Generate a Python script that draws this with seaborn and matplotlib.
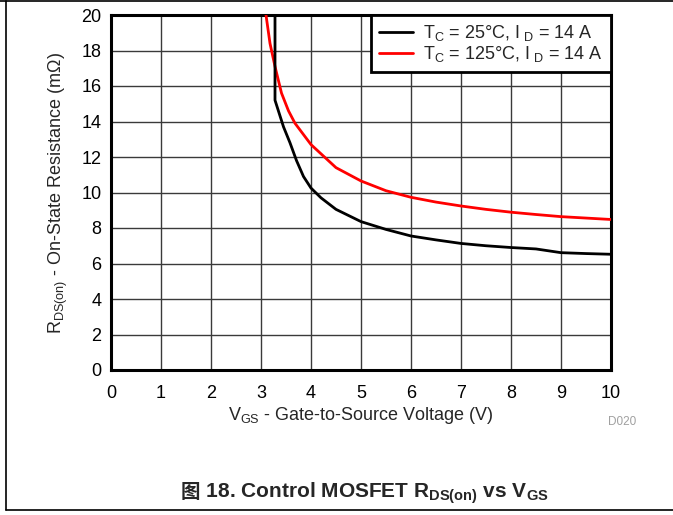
import matplotlib
matplotlib.use("Agg")
import matplotlib.pyplot as plt
import seaborn as sns
import pandas as pd
from matplotlib.lines import Line2D

# R_DS(on) versus V_GS at two case temperatures, I_D = 14 A
vgs_25c = [3.28, 3.28, 3.45, 3.58, 3.71, 3.85, 4.0, 4.2, 4.5, 5.0, 5.5,
           6.0, 6.5, 7.0, 7.5, 8.0, 8.5, 9.0, 9.5, 10.0]
rds_25c = [20.0, 15.2, 13.7, 12.8, 11.8, 10.9, 10.25, 9.7, 9.05, 8.36, 7.92,
           7.55, 7.33, 7.13, 7.0, 6.9, 6.82, 6.61, 6.56, 6.52]

vgs_125c = [3.1, 3.18, 3.28, 3.41, 3.55, 3.68, 4.0, 4.5, 5.0, 5.5, 6.0,
            6.5, 7.0, 7.5, 8.0, 8.5, 9.0, 9.5, 10.0]
rds_125c = [20.0, 18.4, 17.1, 15.6, 14.6, 13.9, 12.7, 11.4, 10.65, 10.1, 9.73,
            9.46, 9.24, 9.05, 8.89, 8.76, 8.64, 8.56, 8.48]

x_ticks = list(range(0, 11))
y_ticks = list(range(0, 21, 2))

label_25c = r"T$_\mathregular{C}$ = 25°C, I$_\mathregular{\ D}$ = 14 A"
label_125c = r"T$_\mathregular{C}$ = 125°C, I$_\mathregular{\ D}$ = 14 A"

sns.set_style("white")
plt.rcParams["font.family"] = ["Liberation Sans", "Noto Sans CJK SC", "DejaVu Sans"]
plt.rcParams["mathtext.fontset"] = "custom"
plt.rcParams["mathtext.rm"] = "Liberation Sans"
plt.rcParams["mathtext.bf"] = "Liberation Sans:bold"

W, H = 673, 515
fig = plt.figure(figsize=(W / 100, H / 100), dpi=100)
ax = fig.add_axes([111 / W, 1 - 370 / H, 500 / W, 355 / H])

df25 = pd.DataFrame({"vgs": vgs_25c, "rds": rds_25c})
df125 = pd.DataFrame({"vgs": vgs_125c, "rds": rds_125c})

sns.lineplot(data=df25, x="vgs", y="rds", ax=ax, color="black", lw=2.0,
             sort=False, estimator=None, label=label_25c, zorder=4)
sns.lineplot(data=df125, x="vgs", y="rds", ax=ax, color="#ff0000", lw=2.0,
             sort=False, estimator=None, label=label_125c, zorder=3)

ax.set_xlim(0, 10)
ax.set_ylim(0, 20)
ax.set_xticks(x_ticks)
ax.set_yticks(y_ticks)
ax.grid(True, color="#3a3a3a", lw=1.0)
ax.set_axisbelow(True)
ax.tick_params(length=0, labelsize=13, colors="black")
ax.tick_params(axis="x", pad=11)
ax.tick_params(axis="y", pad=7)
for s in ax.spines.values():
    s.set_visible(True)
    s.set_color("black")
    s.set_linewidth(2.2)

ax.set_xlabel(r"V$_\mathregular{GS}$ - Gate-to-Source Voltage (V)", fontsize=13, labelpad=2)
ax.set_ylabel(r"R$_\mathregular{DS(on)}$ - On-State Resistance (mΩ)", fontsize=13, labelpad=8)

handles = [Line2D([], [], color="black", lw=2.0), Line2D([], [], color="#ff0000", lw=2.0)]
leg = ax.legend(handles, [label_25c, label_125c], loc="upper right", borderaxespad=0,
                fancybox=False, framealpha=1, edgecolor="black", fontsize=13,
                handlelength=1.9, handletextpad=0.55, labelspacing=0.05,
                borderpad=0.45)
leg.get_frame().set_linewidth(2.0)

fig.text(608 / W, 1 - 422 / H, "D020", color="#a0a0a0", fontsize=8.5, va="center", ha="left")

# figure caption: CJK glyph set separately, then the Latin part right after it
cap_y = 1 - 493 / H
t_fig = fig.text(181 / W, cap_y, "图", family=["Noto Sans CJK SC"], fontsize=14,
                 fontweight="bold", ha="left", va="center")
fig.canvas.draw()
t_cap = ax.annotate(r" 18. Control MOSFET R$_\mathbf{DS(on)}$ vs V$_\mathbf{GS}$",
                    xy=(1, 0.5), xycoords=t_fig, xytext=(0, 0), textcoords="offset points",
                    fontsize=15, fontweight="bold", ha="left", va="center",
                    annotation_clip=False)

# page frame lines
fig.add_artist(Line2D([0, 1], [1 - 1 / H, 1 - 1 / H], color="black", lw=1.2, transform=fig.transFigure))
fig.add_artist(Line2D([6 / W, 6 / W], [1 - 1 / H, 1 - 510 / H], color="black", lw=1.2, transform=fig.transFigure))
fig.add_artist(Line2D([6 / W, 1], [1 - 510 / H, 1 - 510 / H], color="black", lw=1.2, transform=fig.transFigure))

fig.savefig("out.png", dpi=100)
